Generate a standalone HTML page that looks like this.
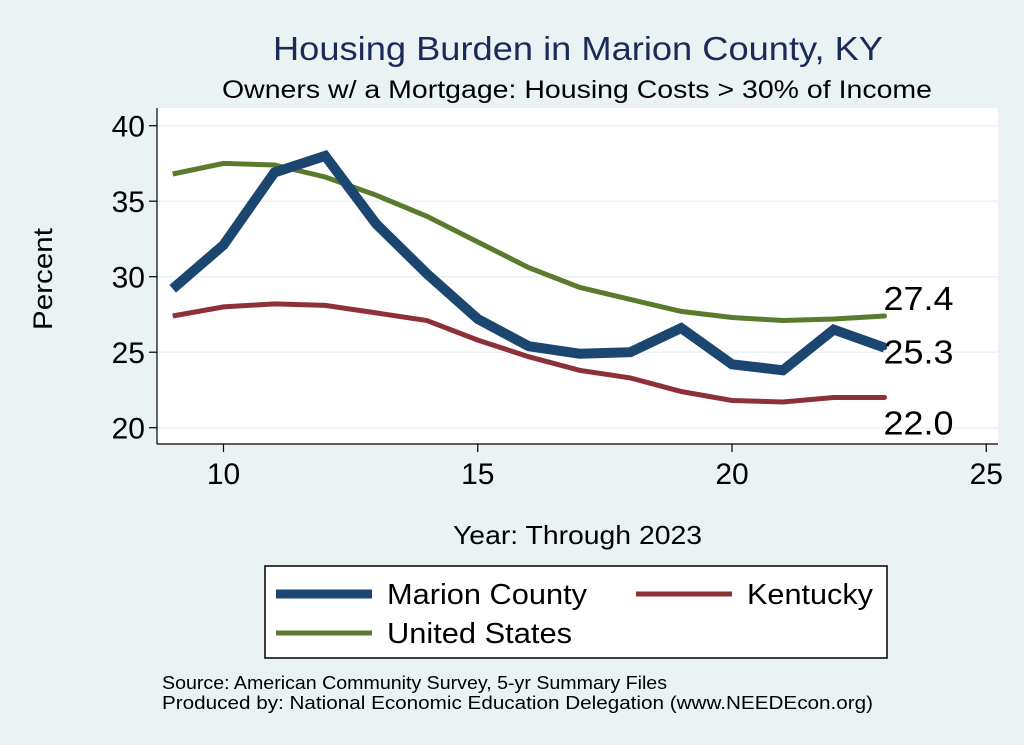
<!DOCTYPE html>
<html><head><meta charset="utf-8"><style>
body{margin:0;background:#eaf2f3;}
svg{display:block;font-family:"Liberation Sans",Arial,sans-serif;}
</style></head><body>
<svg id="chart" width="1024" height="745" xmlns="http://www.w3.org/2000/svg">
<rect width="1024" height="745" fill="#eaf2f3"/>
<rect x="157" y="108" width="841" height="336" fill="#ffffff"/>
<text x="273" y="60" font-size="33" fill="#1a2b5a" textLength="610" lengthAdjust="spacingAndGlyphs">Housing Burden in Marion County, KY</text>
<text x="222" y="98" font-size="25" fill="#000" textLength="710" lengthAdjust="spacingAndGlyphs">Owners w/ a Mortgage: Housing Costs &gt; 30% of Income</text>
<g id="grid"></g><g id="axes"></g><g id="series"></g><g id="labels"></g>
<text x="52" y="279" font-size="27" text-anchor="middle" textLength="102" lengthAdjust="spacingAndGlyphs" transform="rotate(-90 52 279)">Percent</text>
<text x="453" y="544" font-size="26" textLength="249" lengthAdjust="spacingAndGlyphs">Year: Through 2023</text>
<g>
<rect x="265" y="566" width="622" height="92" fill="#fff" stroke="#000" stroke-width="1.5"/>
<line x1="276" y1="594" x2="372" y2="594" stroke="#1a4670" stroke-width="9"/>
<text x="387" y="604" font-size="29" textLength="200" lengthAdjust="spacingAndGlyphs">Marion County</text>
<line x1="636" y1="594" x2="732" y2="594" stroke="#8e3038" stroke-width="5"/>
<text x="747" y="604" font-size="29" textLength="126" lengthAdjust="spacingAndGlyphs">Kentucky</text>
<line x1="276" y1="633" x2="372" y2="633" stroke="#5a7a2e" stroke-width="5"/>
<text x="387" y="643" font-size="29" textLength="185" lengthAdjust="spacingAndGlyphs">United States</text>
</g>
<text x="162" y="689" font-size="18" textLength="505" lengthAdjust="spacingAndGlyphs">Source: American Community Survey, 5-yr Summary Files</text>
<text x="162" y="709" font-size="18" textLength="711" lengthAdjust="spacingAndGlyphs">Produced by: National Economic Education Delegation (www.NEEDEcon.org)</text>
</svg>
<script>
const years=[9,10,11,12,13,14,15,16,17,18,19,20,21,22,23];
const marion=[29.2,32.1,36.9,38.0,33.5,30.2,27.2,25.4,24.9,25.0,26.6,24.2,23.8,26.5,25.3];
const kentucky=[27.4,28.0,28.2,28.1,27.6,27.1,25.8,24.7,23.8,23.3,22.4,21.8,21.7,22.0,22.0];
const unitedStates=[36.8,37.5,37.4,36.6,35.4,34.0,32.3,30.6,29.3,28.5,27.7,27.3,27.1,27.2,27.4];
const xTicks=[10,15,20,25];
const yTicks=[20,25,30,35,40];
const NS="http://www.w3.org/2000/svg";
const xs=v=>223.5+(v-10)*50.85;
const ys=v=>427.7-(v-20)*15.1;
function mk(t,a,p){const e=document.createElementNS(NS,t);for(const k in a)e.setAttribute(k,a[k]);p.appendChild(e);return e;}
const grid=document.getElementById('grid'),axes=document.getElementById('axes'),ser=document.getElementById('series'),lab=document.getElementById('labels');
yTicks.forEach(v=>{
 const g=mk('line',{x1:157,x2:998,y1:ys(v),y2:ys(v),stroke:'#eaf2f3','stroke-width':1.5},grid);
 
 
 const t=mk('line',{x1:149,x2:157,y1:ys(v),y2:ys(v),stroke:'#000','stroke-width':1.2},axes);
 
 
 const l=mk('text',{x:145,y:ys(v)+11,'font-size':30,'text-anchor':'end'},axes);l.textContent=v;
 
 
});
xTicks.forEach(v=>{
 const t=mk('line',{x1:xs(v),x2:xs(v),y1:444,y2:452,stroke:'#000','stroke-width':1.2},axes);
 
 
 const l=mk('text',{x:xs(v),y:484,'font-size':30,'text-anchor':'middle'},axes);l.textContent=v;
 
 
});
const ya=mk('line',{x1:157,x2:157,y1:108,y2:444,stroke:'#000','stroke-width':1.2},axes);


const xa=mk('line',{x1:157,x2:998,y1:444,y2:444,stroke:'#000','stroke-width':1.2},axes);


function line(vals,color,w,name){
 const d=vals.map((v,i)=>(i?'L':'M')+xs(years[i]).toFixed(1)+','+ys(v).toFixed(1)).join('');
 const p=mk('path',{d:d,fill:'none',stroke:color,'stroke-width':w,'stroke-linejoin':'miter'},ser);
 
 
 const n=vals.length-1;
 mk('circle',{cx:xs(years[n]),cy:ys(vals[n]),r:2.5,fill:color},ser);
}
line(kentucky,'#8e3038',5,'kentucky-line');
line(unitedStates,'#5a7a2e',5,'us-line');
line(marion,'#1a4670',10,'marion-line');
const last=years.length-1;
[[unitedStates,-6,'us-end-label'],[marion,16,'marion-end-label'],[kentucky,37,'kentucky-end-label']].forEach(([a,dy,nm])=>{
 const t=mk('text',{x:xs(years[last])+-1,y:ys(a[last])+dy,'font-size':33,textLength:70,lengthAdjust:'spacingAndGlyphs'},lab);
 t.textContent=a[last].toFixed(1);
 
 
});
</script>
</body></html>
